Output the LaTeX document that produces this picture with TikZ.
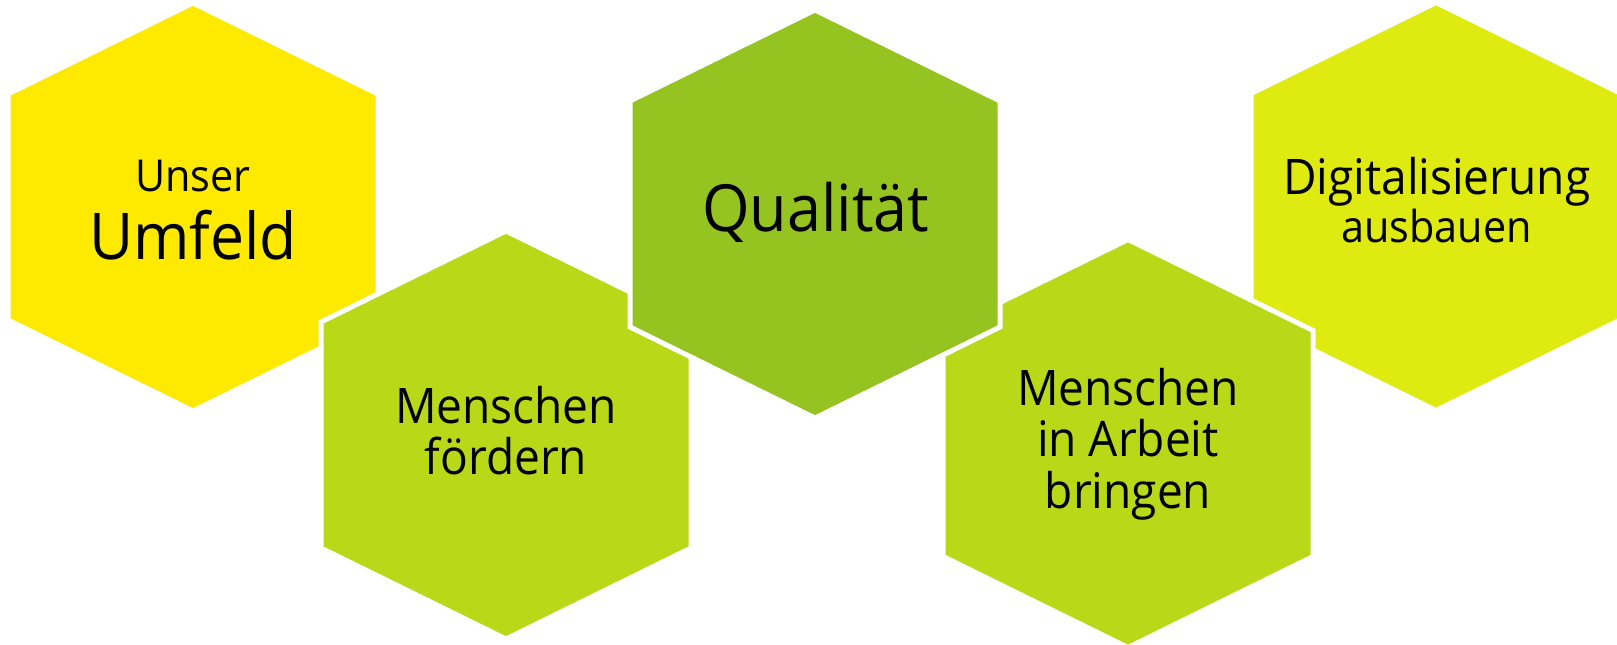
\documentclass[tikz,border=0pt]{standalone}
\usepackage{fontspec}
\setmainfont{Open Sans}[FakeStretch=0.94]

\definecolor{umfeldgelb}{HTML}{FDEA00}
\definecolor{hellgruen}{HTML}{B8D818}
\definecolor{gruen}{HTML}{95C320}
\definecolor{gelbgruen}{HTML}{DEEA10}

% one honeycomb cell round a named centre
\newcommand{\wabe}[2]{%
  \filldraw[wabe,fill=#2] (#1) ++(0,-\halbH) -- ++(\halbB,\schraeg) -- ++(0,\seite)
    -- ++(-\halbB,\schraeg) -- ++(-\halbB,-\schraeg) -- ++(0,-\seite) -- cycle;}

\begin{document}
\begin{tikzpicture}[x=1pt,y=-1pt,
  wabe/.style={draw=white,line width=5pt,line join=miter},
  wabentext/.style={align=center,inner sep=0pt,text=black,font=\fontsize{49}{51.7}\selectfont}]
\def\halbB{185}
\def\halbH{204}
\def\schraeg{91}
\pgfmathsetmacro{\seite}{2*(\halbH-\schraeg)}
\useasboundingbox (0,0) rectangle (1617,645);

\coordinate (umfeld) at (193,207);
\coordinate (digital) at (1436,206.5);
\coordinate (foerdern) at (506,435);
\coordinate (arbeit) at (1128,443.5);
\coordinate (qualitaet) at (815,214);

% back cells first
\wabe{umfeld}{umfeldgelb}
\wabe{digital}{gelbgruen}
\wabe{foerdern}{hellgruen}
\wabe{arbeit}{hellgruen}
\wabe{qualitaet}{gruen}

\node[wabentext,font=\fontsize{44}{68.3}\selectfont] (umfeld-text) at (193,210) {Unser\\{\fontsize{64.5}{68.3}\selectfont Umfeld}};
\node[wabentext] (foerdern-text) at (506,430.7) {Menschen\\fördern};
\node[wabentext,font=\fontsize{65}{70}\selectfont] (qualitaet-text) at (815.8,212.5) {Qualität};
\node[wabentext] (arbeit-text) at (1128,444) {Menschen\\in Arbeit\\bringen};
\node[wabentext,font=\fontsize{49}{47.7}\selectfont] (digital-text) at (1436.7,200.4) {Digitalisierung\\{\fontsize{44}{47.7}\selectfont ausbauen}};
\end{tikzpicture}
\end{document}
